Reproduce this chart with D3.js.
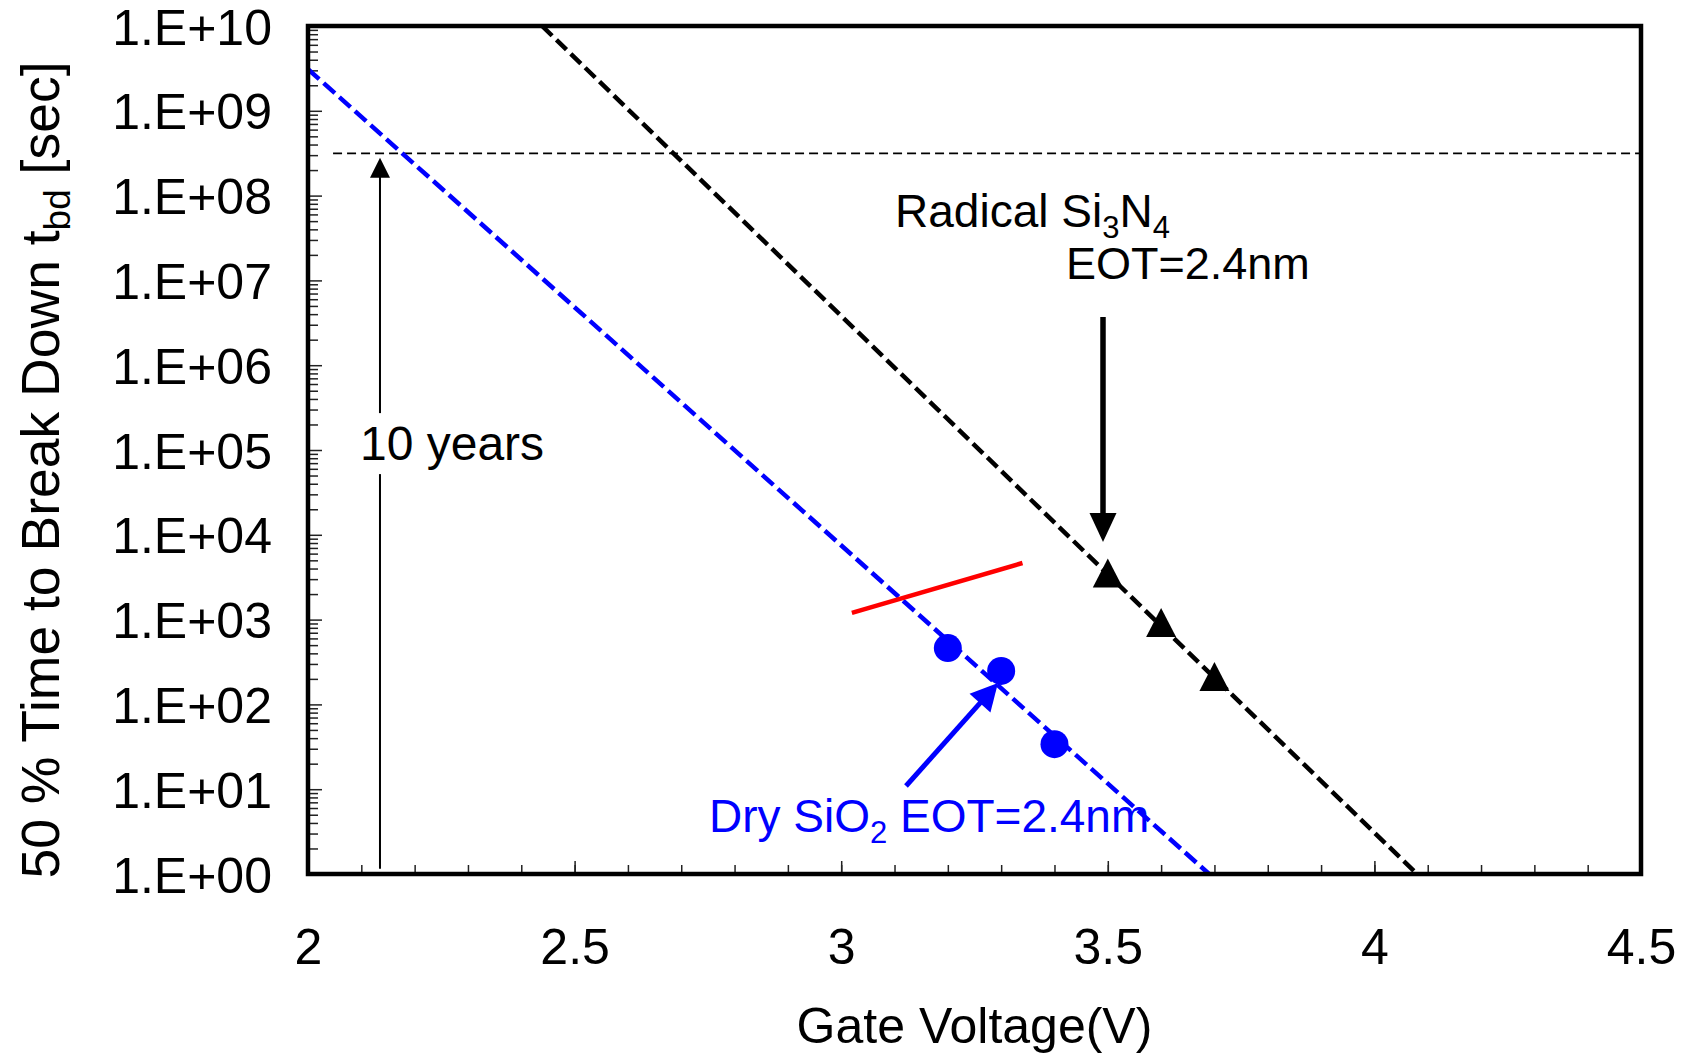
<!DOCTYPE html>
<html>
<head>
<meta charset="utf-8">
<script src="https://cdn.jsdelivr.net/npm/d3@7"></script>
<style>
  html, body { margin: 0; background: #fff; }
  svg { display: block; font-family: "Liberation Sans", Arial, sans-serif; }
</style>
</head>
<body>
<svg id="chart" width="1684" height="1056"></svg>
<script>
// ---------- データ ----------
const xTickValues = [2, 2.5, 3, 3.5, 4, 4.5];
const xTickLabels = ["2", "2.5", "3", "3.5", "4", "4.5"];
const yTickValues = [1, 1e1, 1e2, 1e3, 1e4, 1e5, 1e6, 1e7, 1e8, 1e9, 1e10];
const yTickLabels = ["1.E+00", "1.E+01", "1.E+02", "1.E+03", "1.E+04", "1.E+05",
  "1.E+06", "1.E+07", "1.E+08", "1.E+09", "1.E+10"];

// 測定点
const sio2Voltage = [3.2, 3.3, 3.4];
const sio2Tbd = [462, 248, 34];
const sinVoltage = [3.5, 3.6, 3.7];
const sinTbd = [3500, 910, 210];

// 外挿直線(両端)
const sio2FitVoltage = [2.0, 3.69];
const sio2FitTbd = [3.1e9, 1];
const sinFitVoltage = [2.439, 4.08];
const sinFitTbd = [1e10, 1];

// 10年ライン
const tenYears = 3.15e8;
const tenYearsVoltage = [2.047, 4.5];

// 赤い線
const redVoltage = [3.02, 3.34];
const redTbd = [1200, 4650];

// 矢印 [V, t] の始点→終点
const tenYearsArrow = [[2.135, 1.15], [2.135, 2.8e8]];
const sinArrow = [[3.491, 3.7e6], [3.491, 8.2e3]];
const sio2Arrow = [[3.1215, 10.9], [3.294, 179]];

// ---------- スケール ----------
const svg = d3.select("#chart");
const L = 308, R = 1641, T = 26, B = 874;
const x = d3.scaleLinear().domain([2, 4.5]).range([L, R]);
const y = d3.scaleLog().domain([1, 1e10]).range([B, T]);

svg.append("defs").append("clipPath").attr("id", "plot")
  .append("rect").attr("x", L).attr("y", T).attr("width", R - L).attr("height", B - T);

// ---------- 目盛 ----------
const xMinor = d3.range(20, 46).map((d) => d / 10);
svg.append("g")
  .attr("transform", `translate(0,${B})`)
  .call(d3.axisBottom(x).tickValues(xMinor).tickSize(-9).tickFormat(""))
  .call((g) => g.select(".domain").remove())
  .call((g) => g.selectAll("line").attr("stroke", "#222").attr("stroke-width", 1.5));

svg.append("g")
  .attr("transform", `translate(0,${B})`)
  .call(d3.axisBottom(x).tickValues(xTickValues).tickSize(-13).tickPadding(54)
    .tickFormat((d, i) => xTickLabels[i]))
  .attr("font-size", 50).attr("font-family", null)
  .call((g) => g.select(".domain").remove())
  .call((g) => g.selectAll("line").attr("stroke", "#222").attr("stroke-width", 1.5))
  .call((g) => g.selectAll("text").attr("fill", "#000"));

const yMinor = [];
for (let e = 0; e < 10; e++) for (let k = 2; k <= 9; k++) yMinor.push(k * Math.pow(10, e));
svg.append("g")
  .attr("transform", `translate(${L},0)`)
  .call(d3.axisLeft(y).tickValues(yMinor).tickSize(-10).tickFormat(""))
  .call((g) => g.select(".domain").remove())
  .call((g) => g.selectAll("line").attr("stroke", "#222").attr("stroke-width", 1.5));

svg.append("g")
  .attr("transform", `translate(${L},0)`)
  .call(d3.axisLeft(y).tickValues(yTickValues).tickSize(-14).tickPadding(36)
    .tickFormat((d, i) => yTickLabels[i]))
  .attr("font-size", 50).attr("font-family", null)
  .call((g) => g.select(".domain").remove())
  .call((g) => g.selectAll("line").attr("stroke", "#222").attr("stroke-width", 1.5))
  .call((g) => g.selectAll("text").attr("fill", "#000").attr("dy", "0.36em"));

// ---------- 線 ----------
const plot = svg.append("g").attr("clip-path", "url(#plot)");
const line = d3.line().x((d) => x(d[0])).y((d) => y(d[1]));

plot.append("path")
  .datum(tenYearsVoltage.map((v) => [v, tenYears]))
  .attr("d", line)
  .attr("fill", "none").attr("stroke", "#000").attr("stroke-width", 1.8)
  .attr("stroke-dasharray", "9,5");

plot.append("path")
  .datum(sio2FitVoltage.map((v, i) => [v, sio2FitTbd[i]]))
  .attr("d", line)
  .attr("fill", "none").attr("stroke", "#0000ff").attr("stroke-width", 4.5)
  .attr("stroke-dasharray", "15,6");

plot.append("path")
  .datum(sinFitVoltage.map((v, i) => [v, sinFitTbd[i]]))
  .attr("d", line)
  .attr("fill", "none").attr("stroke", "#000").attr("stroke-width", 4.5)
  .attr("stroke-dasharray", "14,6");

plot.append("path")
  .datum(redVoltage.map((v, i) => [v, redTbd[i]]))
  .attr("d", line)
  .attr("fill", "none").attr("stroke", "#ff0000").attr("stroke-width", 4.5);

// ---------- マーカー ----------
plot.append("g")
  .selectAll("circle")
  .data(sio2Voltage.map((v, i) => [v, sio2Tbd[i]]))
  .join("circle")
  .attr("cx", (d) => x(d[0]))
  .attr("cy", (d) => y(d[1]))
  .attr("r", 14)
  .attr("fill", "#0000ff");

plot.append("g")
  .selectAll("path")
  .data(sinVoltage.map((v, i) => [v, sinTbd[i]]))
  .join("path")
  .attr("transform", (d) => `translate(${x(d[0])},${y(d[1])})`)
  .attr("d", "M0,-15L15,14L-15,14Z")
  .attr("fill", "#000");

// ---------- 矢印 ----------
function arrow(g, pts, color, width, headLen, headHalf) {
  const x1 = x(pts[0][0]), y1 = y(pts[0][1]);
  const x2 = x(pts[1][0]), y2 = y(pts[1][1]);
  const len = Math.hypot(x2 - x1, y2 - y1);
  const ux = (x2 - x1) / len, uy = (y2 - y1) / len;
  const bx = x2 - ux * headLen, by = y2 - uy * headLen;
  g.append("line")
    .attr("x1", x1).attr("y1", y1).attr("x2", bx + ux).attr("y2", by + uy)
    .attr("stroke", color).attr("stroke-width", width);
  g.append("path")
    .attr("d", `M${x2},${y2}L${bx - uy * headHalf},${by + ux * headHalf}L${bx + uy * headHalf},${by - ux * headHalf}Z`)
    .attr("fill", color);
}
const ann = svg.append("g");
arrow(ann, tenYearsArrow, "#000", 2, 20, 10);
arrow(ann, sinArrow, "#000", 5.5, 29, 13.5);
arrow(ann, sio2Arrow, "#0000ff", 5, 27, 14);

// ---------- 注記 ----------
const tenText = ann.append("text")
  .attr("x", x(2.0975)).attr("y", y(7.6e4))
  .attr("font-size", 48)
  .text("10 years");
const bb = tenText.node().getBBox();
ann.insert("rect", "text")
  .attr("x", bb.x - 4).attr("y", bb.y - 4)
  .attr("width", bb.width + 8).attr("height", bb.height + 8)
  .attr("fill", "#fff");

const rad = ann.append("text")
  .attr("x", x(3.101)).attr("y", y(4.27e7))
  .attr("font-size", 46);
rad.append("tspan").text("Radical Si");
rad.append("tspan").attr("font-size", 31).attr("dy", 11).text("3");
rad.append("tspan").attr("dy", -11).text("N");
rad.append("tspan").attr("font-size", 31).attr("dy", 11).text("4");

ann.append("text")
  .attr("x", x(3.4216)).attr("y", y(1.04e7))
  .attr("font-size", 45)
  .text("EOT=2.4nm");

const dry = ann.append("text")
  .attr("x", x(2.752)).attr("y", y(3.13))
  .attr("font-size", 46)
  .attr("fill", "#0000ff");
dry.append("tspan").text("Dry SiO");
dry.append("tspan").attr("font-size", 31).attr("dy", 11).text("2");
dry.append("tspan").attr("dy", -11).text(" EOT=2.4nm");

// ---------- 枠 ----------
svg.append("rect")
  .attr("x", L).attr("y", T).attr("width", R - L).attr("height", B - T)
  .attr("fill", "none").attr("stroke", "#000").attr("stroke-width", 4.5);

// ---------- 軸タイトル ----------
svg.append("text")
  .attr("x", (L + R) / 2).attr("y", 1043)
  .attr("text-anchor", "middle")
  .attr("font-size", 50)
  .text("Gate Voltage(V)");

const yt = svg.append("text")
  .attr("transform", "translate(59,470) rotate(-90)")
  .attr("text-anchor", "middle")
  .attr("font-size", 53.5);
yt.append("tspan").text("50 % Time to Break Down t");
yt.append("tspan").attr("font-size", 37).attr("dy", 11).text("bd");
yt.append("tspan").attr("dy", -11).text(" [sec]");
</script>
</body>
</html>
